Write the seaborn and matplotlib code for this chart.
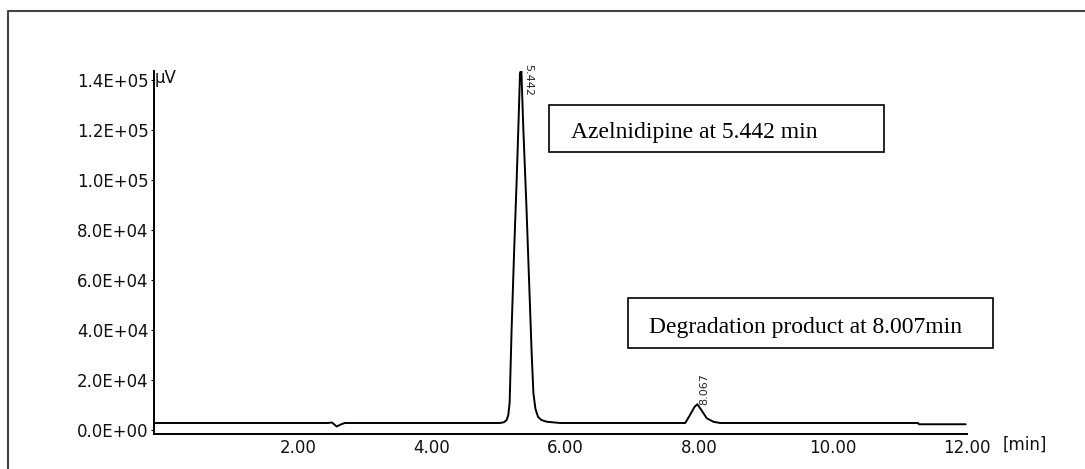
import numpy as np
import pandas as pd
import matplotlib
matplotlib.use("Agg")
import matplotlib.pyplot as plt
from matplotlib.patches import Rectangle
from matplotlib.lines import Line2D
import seaborn as sns

# ---- data ----
time_min = [-0.15, 2.45, 2.51, 2.58, 2.64, 2.70,
            5.02, 5.08, 5.12, 5.145, 5.165, 5.194, 5.23, 5.27, 5.30, 5.32, 5.34,
            5.37, 5.415, 5.455, 5.495, 5.52, 5.55, 5.59, 5.64, 5.72, 5.92,
            7.79, 7.86, 7.93, 7.97, 8.03, 8.11, 8.21, 8.31,
            11.27, 11.28, 11.98]
signal_uv = [2800, 2800, 3000, 1400, 2200, 2800,
             2800, 3100, 4000, 6000, 11000, 40000, 70000, 100000, 125000, 142800, 144000,
             120000, 90000, 60000, 30000, 14800, 8500, 5200, 4000, 3300, 2800,
             2800, 6000, 9300, 10300, 8000, 4700, 3300, 2800,
             2800, 2300, 2300]

y_ticks = [0, 20000, 40000, 60000, 80000, 100000, 120000, 140000]
y_tick_labels = ["0.0E+00", "2.0E+04", "4.0E+04", "6.0E+04", "8.0E+04",
                 "1.0E+05", "1.2E+05", "1.4E+05"]
x_ticks = [2, 4, 6, 8, 10, 12]
x_tick_labels = ["2.00", "4.00", "6.00", "8.00", "10.00", "12.00"]

peak_labels = ["5.442", "8.067"]
peak_label_x = [5.44, 8.08]
peak_label_y = [140000, 16400]

box_texts = ["Azelnidipine at 5.442 min", "Degradation product at 8.007min"]

df = pd.DataFrame({"time": time_min, "signal": signal_uv})

sns.set_style("white")
plt.rcParams["font.family"] = ["DejaVu Sans"]

W, H = 1085, 469
fig = plt.figure(figsize=(W / 100, H / 100), dpi=100)

def fx(px):
    return px / W

def fy(py):
    return 1 - py / H

ax = fig.add_axes([fx(154), fy(434), fx(967) - fx(154), fy(71) - fy(434)])
sns.lineplot(data=df, x="time", y="signal", ax=ax, color="black",
             linewidth=1.4, estimator=None, sort=False)

ax.set_xlim(-0.15, 12.0)
ax.set_ylim(-1600, 143600)
ax.set_xticks(x_ticks)
ax.set_xticklabels(x_tick_labels)
ax.set_yticks(y_ticks)
ax.set_yticklabels(y_tick_labels)
ax.set_xlabel("")
ax.set_ylabel("")
for s in ["top", "right"]:
    ax.spines[s].set_visible(False)
for s in ["left", "bottom"]:
    ax.spines[s].set_color("black")
    ax.spines[s].set_linewidth(1.4)
ax.tick_params(axis="both", which="both", length=2, width=0.8, color="black",
               labelsize=12, labelcolor="#111111")
ax.tick_params(axis="y", pad=2, left=True)
ax.tick_params(axis="x", pad=1.5, bottom=False)
ax.grid(False)

# peak retention-time labels
ax.text(peak_label_x[0], peak_label_y[0], peak_labels[0], rotation=-90,
        fontsize=8, ha="center", va="center", clip_on=False)
ax.text(peak_label_x[1], peak_label_y[1], peak_labels[1], rotation=90,
        fontsize=8, ha="center", va="center", clip_on=False)

# unit labels
fig.text(fx(155), fy(78), "µV", fontsize=12, ha="left", va="center", color="#111111")
fig.text(fx(1003), fy(445), "[min]", fontsize=12, ha="left", va="center", color="#111111")

# annotation boxes
def add_box(x0, y0, x1, y1, tx, tyb, text):
    fig.add_artist(Rectangle((fx(x0), fy(y1)), fx(x1) - fx(x0), fy(y0) - fy(y1),
                             transform=fig.transFigure, fill=False,
                             edgecolor="black", linewidth=1.2))
    fig.text(fx(tx), fy(tyb), text, fontsize=17, family="Liberation Serif",
             ha="left", va="baseline", color="black")

add_box(549, 105, 884, 152, 571, 138, box_texts[0])
add_box(628, 298, 993, 348, 649, 333, box_texts[1])

# outer frame (left and top edges visible)
fig.add_artist(Line2D([fx(8), fx(8), fx(1085)], [0, fy(11), fy(11)],
                      transform=fig.transFigure, color="#444444", linewidth=1.5))

fig.savefig("out.png", dpi=100)
